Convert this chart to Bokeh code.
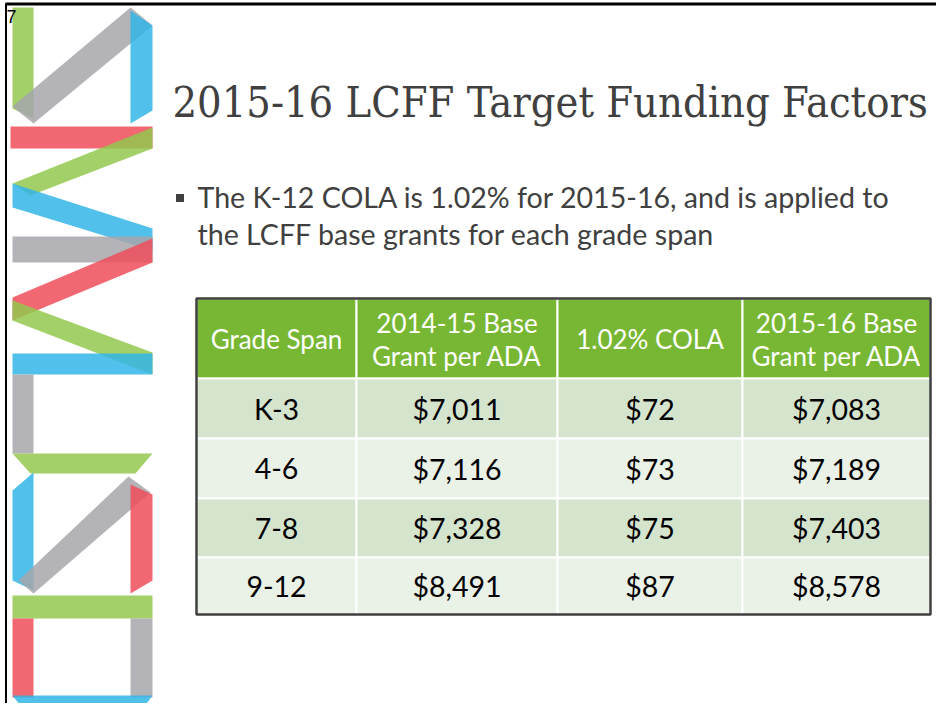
from bokeh.plotting import figure
from bokeh.models import Range1d
from bokeh.core.properties import value
from bokeh.embed import file_html
from bokeh.resources import INLINE

# ---------------- data ----------------
title = "2015-16 LCFF Target Funding Factors"
bullet_lines = ["The K-12 COLA is 1.02% for 2015-16, and is applied to",
                "the LCFF base grants for each grade span"]
header_line1 = ["Grade Span", "2014-15 Base", "1.02% COLA", "2015-16 Base"]
header_line2 = ["", "Grant per ADA", "", "Grant per ADA"]
grade_spans = ["K-3", "4-6", "7-8", "9-12"]
base_2014_15 = [7011, 7116, 7328, 8491]
cola_102 = [72, 73, 75, 87]
base_2015_16 = [7083, 7189, 7403, 8578]
slide_number = "7"

# ---------------- layout ----------------
W, H = 936, 703
p = figure(width=W, height=H, output_backend="svg", toolbar_location=None,
           x_range=Range1d(0, W), y_range=Range1d(H, 0),
           min_border=0, border_fill_color="white", background_fill_color="white")
p.axis.visible = False
p.grid.visible = False
p.outline_line_color = None

# frame lines
p.line([5, W], [3.5, 3.5], line_color="black", line_width=3)
p.line([5.5, 5.5], [3, H], line_color="black", line_width=2)

# ---------------- decorative logo ----------------
GREEN, GRAY, BLUE, RED = "#93c84e", "#a6a6ab", "#33b5e6", "#ef4d5b"
shapes = [
    (GREEN, [12, 33, 33, 12], [7, 7, 118, 108]),
    (GRAY, [12, 130, 152, 33], [106, 7, 25, 123]),
    (BLUE, [130, 152, 152, 130], [10, 25, 110, 123]),
    (RED, [10, 152, 152, 10], [126, 126, 148, 148]),
    (GREEN, [152, 152, 30, 12], [127, 148, 195, 183]),
    (BLUE, [12, 152, 152, 12], [183, 228, 250, 207]),
    (GRAY, [12, 152, 152, 12], [236, 236, 262, 262]),
    (RED, [152, 152, 12, 12], [238, 262, 320, 297]),
    (GREEN, [12, 152, 152, 12], [300, 352, 374, 320]),
    (BLUE, [12, 152, 152, 12], [353, 353, 374, 374]),
    (GRAY, [12, 33, 33, 12], [374, 374, 453, 453]),
    (GREEN, [12, 152, 135, 30], [453, 453, 473, 473]),
    (BLUE, [12, 33, 33, 12], [490, 472, 590, 580]),
    (GRAY, [128, 150, 33, 18], [476, 492, 593, 580]),
    (RED, [130, 152, 152, 130], [484, 494, 580, 593]),
    (GREEN, [12, 152, 152, 12], [595, 595, 618, 618]),
    (RED, [12, 33, 33, 12], [618, 618, 697, 697]),
    (GRAY, [130, 152, 152, 130], [618, 618, 697, 697]),
    (BLUE, [12, 152, 135, 30], [695, 695, 718, 718]),
]
p.patches(xs=[s[1] for s in shapes], ys=[s[2] for s in shapes],
          fill_color=[s[0] for s in shapes], fill_alpha=0.85, line_color=None)

p.text(x=[6], y=[9], text=[slide_number], text_font=value("Liberation Sans"),
       text_font_size="18px", text_color="black", text_baseline="top", text_align="left")

# ---------------- title & bullet ----------------
p.text(x=[172], y=[101], text=[title], text_font=value("DejaVu Serif Condensed"),
       text_font_size="43px", text_color="#404040", text_baseline="middle",
       text_align="left")

p.scatter(x=[179.5], y=[197.5], marker="square", size=8, fill_color="#404040",
          line_color=None)
p.text(x=[197, 197], y=[196, 233], text=bullet_lines, text_font=value("Lato"),
       text_font_size="28.6px", text_color="#404040", text_baseline="middle",
       text_align="left")

# ---------------- table ----------------
col_edges = [196, 356, 557, 742, 930]
row_edges = [298, 378, 438, 498, 557, 614]
row_fills = ["#d5e4cd", "#eaf1e6"]
HEADER = "#77b733"

cx = [(col_edges[i] + col_edges[i + 1]) / 2 for i in range(4)]

left, right, top, bottom, fills = [], [], [], [], []
for r in range(5):
    for c in range(4):
        left.append(col_edges[c]); right.append(col_edges[c + 1])
        top.append(row_edges[r]); bottom.append(row_edges[r + 1])
        fills.append(HEADER if r == 0 else row_fills[(r - 1) % 2])
p.quad(left=left, right=right, top=top, bottom=bottom, fill_color=fills,
       line_color="white", line_width=2)
p.quad(left=[col_edges[0]], right=[col_edges[-1]], top=[row_edges[0]],
       bottom=[row_edges[-1]], fill_color=None, line_color="#3f3f3f", line_width=2.5)

hy = (row_edges[0] + row_edges[1]) / 2
hx1, hy1, ht1 = [], [], []
for i in range(4):
    if header_line2[i]:
        hx1 += [cx[i], cx[i]]; hy1 += [hy - 16, hy + 17]
        ht1 += [header_line1[i], header_line2[i]]
    else:
        hx1.append(cx[i]); hy1.append(hy); ht1.append(header_line1[i])
p.text(x=hx1, y=hy1, text=ht1, text_font=value("Lato"), text_font_size="26px",
       text_color="white", text_baseline="middle", text_align="center")

def money(v):
    return "${:,}".format(v)

dx, dy, dt = [], [], []
for r in range(4):
    yc = (row_edges[r + 1] + row_edges[r + 2]) / 2
    vals = [grade_spans[r], money(base_2014_15[r]), money(cola_102[r]), money(base_2015_16[r])]
    for c in range(4):
        dx.append(cx[c]); dy.append(yc); dt.append(vals[c])
p.text(x=dx, y=dy, text=dt, text_font=value("Lato"), text_font_size="28.5px",
       text_color="black", text_baseline="middle", text_align="center")

open("out.html", "w").write(file_html(p, INLINE))
